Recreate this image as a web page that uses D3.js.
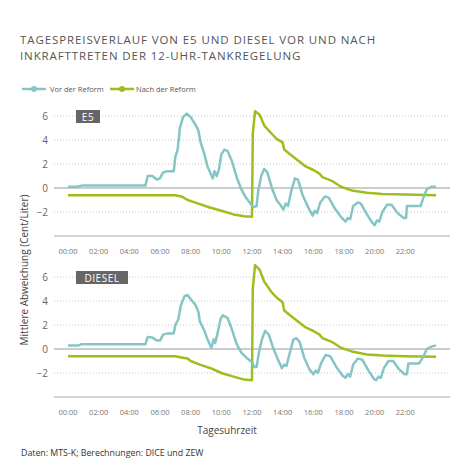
<!DOCTYPE html><html><head><meta charset="utf-8"><script src="https://cdn.jsdelivr.net/npm/d3@7"></script>
<style>body{margin:0;background:#fff}text{font-family:"Open Sans",sans-serif}</style></head><body><svg id="c" width="475" height="475"></svg><script>
const tickLabels=["00:00","02:00","04:00","06:00","08:00","10:00","12:00","14:00","16:00","18:00","20:00","22:00"];
const yTicks=[-2,0,2,4,6];
const e5Before=[[0,0.1],[0.6,0.1],[0.9,0.2],[5.05,0.2],[5.2,1.0],[5.5,1.0],[5.8,0.7],[6.0,0.8],[6.2,1.3],[6.5,1.4],[6.9,1.4],[7.0,2.6],[7.15,3.2],[7.3,5.0],[7.5,5.9],[7.75,6.2],[8.0,5.9],[8.3,5.3],[8.5,4.8],[8.65,3.8],[8.9,2.8],[9.1,1.8],[9.3,1.2],[9.45,0.8],[9.55,1.4],[9.7,1.0],[9.85,1.6],[10.0,2.8],[10.2,3.2],[10.4,3.1],[10.7,2.2],[11.0,0.9],[11.3,-0.1],[11.6,-0.8],[11.9,-1.3],[12.1,-1.6],[12.3,-1.5],[12.4,-0.3],[12.6,1.0],[12.8,1.6],[13.0,1.3],[13.3,0.0],[13.6,-1.0],[13.9,-1.5],[14.05,-1.8],[14.2,-1.3],[14.35,-1.5],[14.55,-0.3],[14.8,0.8],[15.0,0.7],[15.3,-0.6],[15.7,-1.7],[15.95,-2.3],[16.1,-1.9],[16.25,-2.1],[16.45,-1.2],[16.75,-0.7],[17.0,-0.8],[17.4,-1.7],[17.8,-2.4],[18.1,-2.8],[18.25,-2.5],[18.4,-2.6],[18.6,-1.5],[18.9,-1.2],[19.1,-1.3],[19.5,-2.2],[19.85,-2.9],[20.0,-3.1],[20.15,-2.7],[20.3,-2.8],[20.5,-2.0],[20.8,-1.4],[21.1,-1.4],[21.5,-2.1],[21.9,-2.5],[22.05,-2.5],[22.1,-1.5],[23.0,-1.5],[23.15,-0.9],[23.4,-0.1],[23.7,0.1],[24,0.1]];
const e5After=[[0,-0.6],[7.0,-0.6],[7.4,-0.7],[7.8,-1.0],[8.5,-1.3],[9.2,-1.6],[10.0,-1.9],[10.8,-2.2],[11.5,-2.35],[12.0,-2.4],[12.05,4.5],[12.2,6.4],[12.5,6.1],[12.8,5.2],[13.3,4.5],[13.6,4.1],[14.0,3.8],[14.1,3.2],[14.5,2.8],[15.0,2.3],[15.5,1.8],[16.0,1.5],[16.4,1.2],[16.6,0.9],[17.2,0.6],[17.8,0.1],[18.5,-0.2],[19.5,-0.4],[20.5,-0.5],[22,-0.55],[24,-0.6]];
const dBefore=[[0,0.3],[0.7,0.3],[0.9,0.4],[5.05,0.4],[5.2,1.0],[5.5,0.95],[5.8,0.7],[6.0,0.7],[6.2,1.2],[6.5,1.3],[6.9,1.3],[7.0,2.0],[7.2,2.5],[7.35,3.6],[7.6,4.4],[7.8,4.5],[8.1,4.0],[8.3,3.7],[8.5,3.1],[8.6,2.3],[8.9,1.5],[9.1,0.8],[9.35,0.1],[9.5,0.8],[9.6,0.5],[9.75,1.3],[9.95,2.5],[10.1,2.8],[10.4,2.6],[10.7,1.6],[11.0,0.4],[11.3,-0.3],[11.7,-0.8],[12.0,-1.1],[12.15,-1.5],[12.3,-1.5],[12.45,-0.3],[12.65,0.8],[12.85,1.5],[13.1,1.2],[13.4,0.0],[13.7,-0.9],[13.95,-1.6],[14.1,-1.3],[14.25,-1.4],[14.45,-0.4],[14.7,0.8],[14.9,0.9],[15.1,0.6],[15.4,-0.7],[15.75,-1.7],[16.0,-2.1],[16.15,-1.8],[16.3,-2.0],[16.5,-1.2],[16.8,-0.5],[17.1,-0.6],[17.5,-1.5],[17.9,-2.2],[18.1,-2.4],[18.25,-2.1],[18.4,-2.3],[18.6,-1.3],[18.9,-0.8],[19.2,-0.9],[19.6,-1.8],[19.95,-2.5],[20.1,-2.6],[20.25,-2.3],[20.4,-2.4],[20.6,-1.6],[20.9,-1.0],[21.2,-1.0],[21.6,-1.7],[21.95,-2.1],[22.1,-2.1],[22.2,-1.2],[22.9,-1.2],[23.15,-0.7],[23.4,0.0],[23.7,0.2],[24,0.3]];
const dAfter=[[0,-0.6],[7.0,-0.6],[7.4,-0.7],[7.8,-0.8],[8.0,-1.0],[8.6,-1.3],[9.3,-1.6],[10.0,-2.0],[10.8,-2.3],[11.5,-2.55],[12.0,-2.6],[12.05,5.0],[12.2,7.0],[12.5,6.6],[12.8,5.6],[13.3,4.7],[13.6,4.3],[14.0,3.9],[14.1,3.2],[14.5,2.8],[15.0,2.3],[15.5,1.8],[16.0,1.5],[16.4,1.2],[16.6,0.9],[17.2,0.6],[17.8,0.1],[18.5,-0.2],[19.5,-0.45],[20.5,-0.55],[22,-0.6],[24,-0.65]];
const teal="#85c5c5",green="#9dbf1e";
const svg=d3.select("#c");
const x=d3.scaleLinear().domain([0,24]).range([68,436]);
svg.append("text").attr("x",20).attr("y",44).attr("font-size",11.5).attr("fill","#555").attr("letter-spacing",0.9).text("TAGESPREISVERLAUF VON E5 UND DIESEL VOR UND NACH");
svg.append("text").attr("x",20).attr("y",60).attr("font-size",11.5).attr("fill","#555").attr("letter-spacing",0.9).text("INKRAFTTRETEN DER 12-UHR-TANKREGELUNG");
[[22,teal,"Vor der Reform",50],[110,green,"Nach der Reform",136]].forEach(([x0,c,t,tx])=>{
 svg.append("line").attr("x1",x0).attr("x2",x0+24).attr("y1",89).attr("y2",89).attr("stroke",c).attr("stroke-width",2.5);
 svg.append("circle").attr("cx",x0+12).attr("cy",89).attr("r",3).attr("fill",c);
 svg.append("text").attr("x",tx).attr("y",92).attr("font-size",7.5).attr("fill","#555").text(t);
});
function panel(y0,label,before,after){
 const y=d3.scaleLinear().domain([-4,6]).range([y0+120,y0]);
 const g=svg.append("g");
 yTicks.forEach(v=>{
  g.append("line").attr("x1",54).attr("x2",450).attr("y1",y(v)).attr("y2",y(v)).attr("stroke",v==0?"#999":"#bbb").attr("stroke-width",v==0?1:0.8).attr("stroke-dasharray",v==0?null:"1,2");
  g.append("text").attr("x",48).attr("y",y(v)+4).attr("text-anchor","end").attr("font-size",10).attr("fill","#666").text(v<0?"\u2212"+(-v):v);
 });
 g.append("line").attr("x1",54).attr("x2",450).attr("y1",y(-4)).attr("y2",y(-4)).attr("stroke","#aaa");
 tickLabels.forEach((t,i)=>g.append("text").attr("x",x(i*2)).attr("y",y(-4)+18).attr("text-anchor","middle").attr("font-size",7.5).attr("fill","#777").text(t));
 const bw=label.length*7+10;
 g.append("rect").attr("x",76).attr("y",y(6)-6).attr("width",bw).attr("height",13).attr("fill","#666");
 g.append("text").attr("x",76+bw/2).attr("y",y(6)+4.5).attr("text-anchor","middle").attr("font-size",10).attr("fill","#fff").attr("letter-spacing",0.5).text(label);
 const line=d3.line().x(d=>x(d[0])).y(d=>y(d[1]));
 g.append("path").attr("d",line(after)).attr("fill","none").attr("stroke",green).attr("stroke-width",2.5).attr("stroke-linejoin","round");
 g.append("path").attr("d",line(before)).attr("fill","none").attr("stroke",teal).attr("stroke-width",2.5).attr("stroke-linejoin","round");
}
panel(116,"E5",e5Before,e5After);
panel(277,"DIESEL",dBefore,dAfter);
svg.append("text").attr("transform","translate(28,270) rotate(-90)").attr("text-anchor","middle").attr("font-size",10).attr("fill","#444").text("Mittlere Abweichung (Cent/Liter)");
svg.append("text").attr("x",227).attr("y",434).attr("text-anchor","middle").attr("font-size",10).attr("fill","#444").text("Tagesuhrzeit");
svg.append("text").attr("x",21).attr("y",456).attr("font-size",8.8).attr("fill","#333").text("Daten: MTS-K; Berechnungen: DICE und ZEW");
</script></body></html>
